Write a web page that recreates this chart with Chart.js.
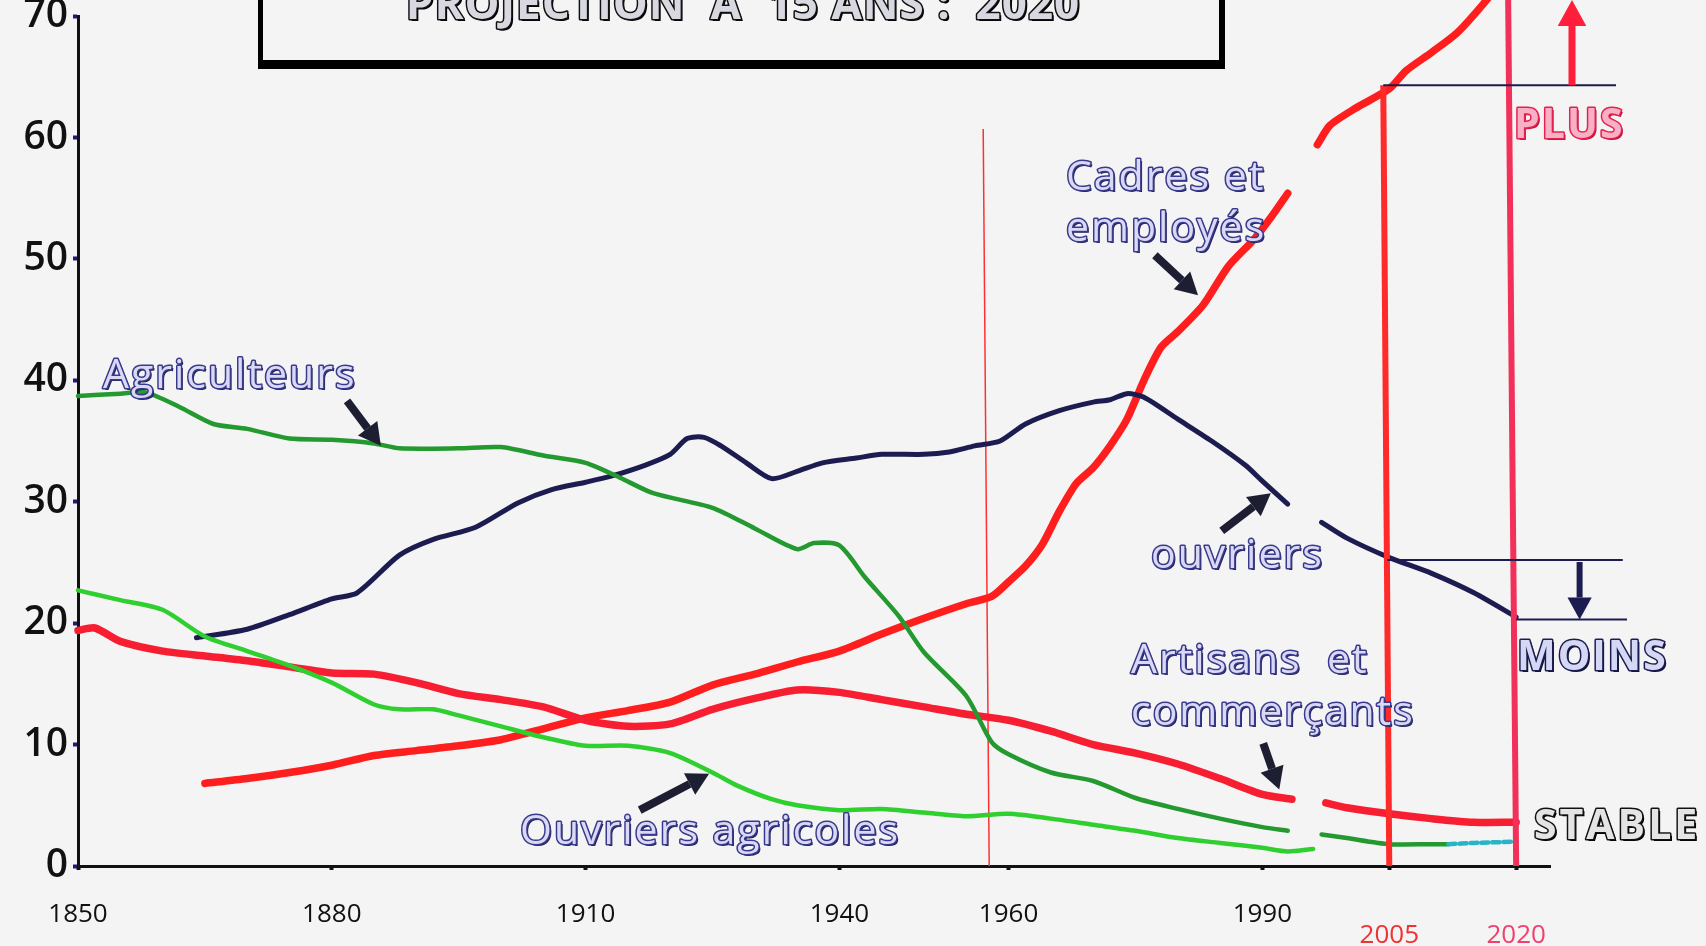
<!DOCTYPE html>
<html>
<head>
<meta charset="utf-8">
<script src="https://cdn.jsdelivr.net/npm/chart.js@4.4.1/dist/chart.umd.min.js"></script>
<style>
  html, body { margin: 0; padding: 0; background: #f4f4f4; }
  #wrap { width: 1706px; height: 946px; }
</style>
</head>
<body>
<div id="wrap"><canvas id="chart" width="1706" height="946"></canvas></div>
<script>
// --- data (year, % of working population) ---
const agriYears   = [1850, 1855, 1858, 1862, 1866, 1870, 1875, 1880, 1885, 1888, 1895, 1900, 1905, 1910, 1914, 1918, 1925, 1930, 1935, 1937, 1940, 1943, 1947, 1950, 1955, 1958, 1960, 1965, 1970, 1975, 1980, 1985, 1990, 1993, 1995, 1997, 2000, 2005, 2010, 2012, 2015, 2020];
const agriValues  = [38.7, 38.9, 39.0, 37.8, 36.4, 36.0, 35.2, 35.1, 34.8, 34.4, 34.4, 34.5, 33.8, 33.2, 32.0, 30.7, 29.5, 27.8, 26.1, 26.6, 26.4, 23.8, 20.6, 17.6, 14.0, 10.2, 9.2, 7.7, 7.0, 5.6, 4.7, 3.9, 3.2, 2.9, null, 2.6, 2.3, 1.8, 1.8, 1.8, 1.9, 2.0];

const ouvAgriYears  = [1850, 1855, 1860, 1865, 1870, 1875, 1880, 1885, 1888, 1892, 1895, 1900, 1905, 1910, 1915, 1920, 1925, 1928, 1932, 1935, 1940, 1945, 1950, 1955, 1960, 1965, 1970, 1975, 1980, 1985, 1990, 1993, 1996];
const ouvAgriValues = [22.7, 21.9, 21.1, 18.9, 17.7, 16.5, 15.1, 13.3, 12.9, 12.9, 12.4, 11.5, 10.6, 9.9, 9.9, 9.3, 7.7, 6.6, 5.5, 5.0, 4.6, 4.7, 4.4, 4.1, 4.3, 3.9, 3.4, 2.9, 2.3, 1.9, 1.5, 1.2, 1.4];

const ouvYears  = [1864, 1870, 1875, 1880, 1883, 1888, 1892, 1897, 1902, 1906, 1910, 1913, 1917, 1920, 1922, 1924, 1926, 1929, 1932, 1935, 1938, 1942, 1945, 1950, 1953, 1956, 1959, 1962, 1966, 1970, 1972, 1974, 1976, 1980, 1984, 1988, 1990, 1993, 1995, 1997, 2000, 2005, 2010, 2015, 2020];
const ouvValues = [18.8, 19.5, 20.7, 22.0, 22.5, 25.6, 26.9, 27.9, 29.9, 31.0, 31.6, 32.1, 33.0, 33.9, 35.2, 35.3, 34.6, 33.2, 31.9, 32.5, 33.2, 33.6, 33.9, 33.9, 34.1, 34.6, 35.0, 36.4, 37.5, 38.2, 38.4, 38.9, 38.6, 36.8, 35.0, 33.0, 31.7, 29.8, null, 28.3, 27.0, 25.4, 24.1, 22.5, 20.5];

const cadresYears  = [1865, 1870, 1875, 1880, 1885, 1890, 1895, 1900, 1905, 1910, 1915, 1920, 1925, 1930, 1935, 1940, 1945, 1950, 1955, 1958, 1960, 1962, 1964, 1966, 1968, 1970, 1972, 1974, 1976, 1978, 1980, 1983, 1986, 1989, 1991, 1993, 1995, 1996.5, 1998, 2001, 2005, 2007, 2010, 2013, 2016, 2019];
const cadresValues = [6.8, 7.2, 7.7, 8.3, 9.1, 9.5, 9.9, 10.4, 11.3, 12.2, 12.8, 13.5, 14.9, 15.8, 16.8, 17.7, 19.1, 20.4, 21.6, 22.2, 23.4, 24.7, 26.5, 29.2, 31.5, 32.8, 34.6, 36.8, 40.0, 42.7, 44.0, 46.2, 49.4, 51.6, 53.4, 55.4, null, 59.4, 61.0, 62.4, 64.0, 65.5, 67.0, 68.6, 70.9, 73.5];

const artYears  = [1850, 1852, 1855, 1860, 1865, 1870, 1875, 1880, 1885, 1890, 1895, 1900, 1905, 1910, 1915, 1920, 1925, 1930, 1935, 1940, 1945, 1950, 1955, 1960, 1965, 1970, 1975, 1980, 1985, 1990, 1993.5, 1995.5, 1997.5, 2000, 2005, 2010, 2015, 2020];
const artValues = [19.4, 19.6, 18.5, 17.7, 17.3, 16.9, 16.4, 15.9, 15.8, 15.1, 14.2, 13.7, 13.1, 12.0, 11.5, 11.7, 12.9, 13.8, 14.5, 14.3, 13.7, 13.1, 12.5, 12.0, 11.1, 10.0, 9.3, 8.4, 7.2, 5.9, 5.5, null, 5.2, 4.8, 4.3, 3.9, 3.6, 3.6];

const xTickYears = [1850, 1880, 1910, 1940, 1960, 1990, 2005, 2020];
const yTickValues = [0, 10, 20, 30, 40, 50, 60, 70];

// reference levels for the projection marks
const projStart = 2005;
const projEnd = 2020;
const plusLevel = 64.3;
const moinsHigh = 25.2;
const moinsLow = 20.3;
const markYear = 1957;
const markTop = 60.7;

const toPoints = (xs, ys) => xs.map((x, i) => ({ x: x, y: ys[i] }));

const navy = '#1c1c50';
const red = '#ff1e1e';
const darkGreen = '#23992f';
const lightGreen = '#2fcf2f';

function outlined(ctx, text, x, y, size, fill, stroke, shadow, weight, spacing) {
  ctx.save();
  ctx.font = (weight || '600') + ' ' + size + 'px "Open Sans", sans-serif';
  ctx.letterSpacing = (spacing || 0) + 'px';
  ctx.textBaseline = 'middle';
  ctx.lineJoin = 'round';
  ctx.fillStyle = shadow;
  ctx.fillText(text, x + 2, y + 2.5);
  ctx.lineWidth = 3;
  ctx.strokeStyle = stroke;
  ctx.strokeText(text, x, y);
  ctx.fillStyle = fill;
  ctx.fillText(text, x, y);
  ctx.restore();
}

function arrow(ctx, x1, y1, x2, y2, color, width, head) {
  const a = Math.atan2(y2 - y1, x2 - x1);
  const bx = x2 - Math.cos(a) * head;
  const by = y2 - Math.sin(a) * head;
  ctx.save();
  ctx.strokeStyle = color;
  ctx.fillStyle = color;
  ctx.lineWidth = width;
  ctx.beginPath();
  ctx.moveTo(x1, y1);
  ctx.lineTo(bx, by);
  ctx.stroke();
  ctx.beginPath();
  ctx.moveTo(x2, y2);
  ctx.lineTo(bx + Math.cos(a + Math.PI / 2) * head * 0.55, by + Math.sin(a + Math.PI / 2) * head * 0.55);
  ctx.lineTo(bx + Math.cos(a - Math.PI / 2) * head * 0.55, by + Math.sin(a - Math.PI / 2) * head * 0.55);
  ctx.closePath();
  ctx.fill();
  ctx.restore();
}

const background = {
  id: 'background',
  beforeDraw(chart) {
    const ctx = chart.ctx;
    ctx.save();
    ctx.fillStyle = '#f4f4f4';
    ctx.fillRect(0, 0, chart.width, chart.height);
    ctx.restore();
  }
};

const marks = {
  id: 'marks',
  beforeDatasetsDraw(chart) {
    const ctx = chart.ctx;
    const xs = chart.scales.x, ys = chart.scales.y;
    // thin red marker line
    ctx.save();
    ctx.strokeStyle = '#ff3030';
    ctx.lineWidth = 1.5;
    ctx.beginPath();
    ctx.moveTo(xs.getPixelForValue(markYear), ys.getPixelForValue(markTop));
    ctx.lineTo(xs.getPixelForValue(markYear) + 6, ys.getPixelForValue(0));
    ctx.stroke();
    ctx.restore();
  },
  afterDatasetsDraw(chart) {
    const ctx = chart.ctx;
    const xs = chart.scales.x, ys = chart.scales.y;
    const X = v => xs.getPixelForValue(v);
    const Y = v => ys.getPixelForValue(v);

    ctx.save();
    // projection verticals
    ctx.lineWidth = 6;
    ctx.strokeStyle = '#ff2a2a';
    ctx.beginPath();
    ctx.moveTo(X(projStart) - 6, Y(plusLevel));
    ctx.lineTo(X(projStart), Y(0));
    ctx.stroke();
    ctx.strokeStyle = '#f2305a';
    ctx.beginPath();
    ctx.moveTo(X(projEnd) - 8, 0);
    ctx.lineTo(X(projEnd), Y(0));
    ctx.stroke();

    // navy level lines
    ctx.strokeStyle = navy;
    ctx.lineWidth = 2;
    ctx.beginPath();
    ctx.moveTo(X(projStart) - 6, Y(plusLevel));
    ctx.lineTo(X(2031.8), Y(plusLevel));
    ctx.moveTo(X(projStart) - 2, Y(moinsHigh));
    ctx.lineTo(X(2032.6), Y(moinsHigh));
    ctx.moveTo(X(projEnd), Y(moinsLow));
    ctx.lineTo(X(2033.1), Y(moinsLow));
    ctx.stroke();
    ctx.restore();

    arrow(ctx, X(2026.6), Y(plusLevel), X(2026.6), 0, '#ff1e3c', 7, 26);
    arrow(ctx, X(2027.5), Y(moinsHigh) + 2, X(2027.5), Y(moinsLow), navy, 6, 22);

    // pointer arrows
    arrow(ctx, X(1881.8), Y(38.3), X(1885.8), Y(34.6), '#1e1e32', 8, 22);
    arrow(ctx, X(1977.3), Y(50.3), X(1982.4), Y(47.0), '#1e1e32', 8, 22);
    arrow(ctx, X(1985.2), Y(27.6), X(1991.0), Y(30.7), '#1e1e32', 8, 22);
    arrow(ctx, X(1990.1), Y(10.1), X(1992.0), Y(6.3), '#1e1e32', 8, 22);
    arrow(ctx, X(1916.4), Y(4.6), X(1924.6), Y(7.6), '#1e1e32', 8, 22);

    // labels
    const lav = '#d9d9f6', edge = '#3a3a8c', sh = '#23235a';
    outlined(ctx, 'Agriculteurs', 103, 376, 41, lav, edge, sh, '500', 2);
    outlined(ctx, 'Cadres et', 1066, 178, 41, lav, edge, sh, '500', 2);
    outlined(ctx, 'employés', 1066, 229, 41, lav, edge, sh, '500', 2);
    outlined(ctx, 'ouvriers', 1151, 556, 41, lav, edge, sh, '500', 2);
    outlined(ctx, 'Artisans  et', 1131, 661, 41, lav, edge, sh, '500', 2);
    outlined(ctx, 'commerçants', 1131, 713, 41, lav, edge, sh, '500', 2);
    outlined(ctx, 'Ouvriers agricoles', 520, 832, 41, lav, edge, sh, '500', 2);

    outlined(ctx, 'PLUS', 1514, 126, 41, '#f8b0c6', '#e6204c', '#c0103a', '700', 2);
    outlined(ctx, 'MOINS', 1517, 658, 41, '#d4d8f4', navy, '#10103a', '700', 2);
    outlined(ctx, 'STABLE', 1534, 827, 41, '#e4e4e4', '#111', '#000', '700', 3);

    // title box (top cut off)
    ctx.save();
    ctx.fillStyle = '#000';
    ctx.fillRect(258, -5, 5, 72);
    ctx.fillRect(1219, -5, 6, 72);
    ctx.fillRect(258, 60, 967, 9);
    ctx.restore();
    ctx.save();
    ctx.textAlign = 'center';
    outlined(ctx, 'PROJECTION  A  15 ANS :  2020', 743, 6, 44, '#d8d8e0', '#111', '#000', '700', 1);
    ctx.restore();
  }
};

const lineStyle = (color, width) => ({
  borderColor: color,
  backgroundColor: color,
  borderWidth: width,
  pointRadius: 0,
  tension: 0.25,
  fill: false,
  spanGaps: false,
  clip: false,
  borderCapStyle: 'round',
  borderJoinStyle: 'round'
});

new Chart(document.getElementById('chart'), {
  type: 'line',
  data: {
    datasets: [
      Object.assign({ label: 'Ouvriers agricoles', data: toPoints(ouvAgriYears, ouvAgriValues) }, lineStyle(lightGreen, 4.5)),
      Object.assign({ label: 'Agriculteurs', data: toPoints(agriYears, agriValues),
        segment: {
          borderColor: c => c.p0.parsed.x >= 2012 ? '#27b4c8' : undefined,
          borderDash: c => c.p0.parsed.x >= 2012 ? [7, 4] : undefined
        } }, lineStyle(darkGreen, 4.5)),
      Object.assign({ label: 'Ouvriers', data: toPoints(ouvYears, ouvValues) }, lineStyle(navy, 5)),
      Object.assign({ label: 'Artisans et commerçants', data: toPoints(artYears, artValues) }, lineStyle('#f81e32', 7.5)),
      Object.assign({ label: 'Cadres et employés', data: toPoints(cadresYears, cadresValues) }, lineStyle(red, 7.5))
    ]
  },
  options: {
    responsive: false,
    animation: false,
    devicePixelRatio: 1,
    layout: { padding: { top: 16, right: 156, left: 0, bottom: 0 } },
    plugins: {
      legend: { display: false },
      tooltip: { enabled: false },
      title: { display: false }
    },
    scales: {
      x: {
        type: 'linear',
        min: 1850,
        max: 2024,
        afterBuildTicks: s => { s.ticks = xTickYears.map(v => ({ value: v })); },
        afterFit: s => { s.height = 80; s.paddingLeft = 0; s.paddingRight = 0; },
        border: { display: true, color: '#111', width: 3 },
        grid: { drawOnChartArea: false, drawTicks: true, tickLength: 4, tickColor: '#111', tickWidth: 4 },
        ticks: {
          autoSkip: false,
          maxRotation: 0,
          padding: 34,
          font: { family: 'Open Sans', size: 26, weight: '500', lineHeight: 0.8 },
          color: c => c.tick.value === 2005 ? '#f03232' : (c.tick.value === 2020 ? '#f0406e' : '#111'),
          callback: v => (v === 2005 || v === 2020) ? ['', String(v)] : String(v)
        }
      },
      y: {
        min: 0,
        max: 70,
        afterBuildTicks: s => { s.ticks = yTickValues.map(v => ({ value: v })); },
        afterFit: s => { s.width = 78; s.paddingTop = 0; s.paddingBottom = 0; },
        border: { display: true, color: '#111', width: 3 },
        grid: { drawOnChartArea: false, drawTicks: true, tickLength: 5, tickColor: '#1c1c70', tickWidth: 4 },
        ticks: {
          padding: 5,
          font: { family: 'Open Sans', size: 39, weight: '600' },
          color: '#111'
        }
      }
    }
  },
  plugins: [background, marks]
});
</script>
</body>
</html>
